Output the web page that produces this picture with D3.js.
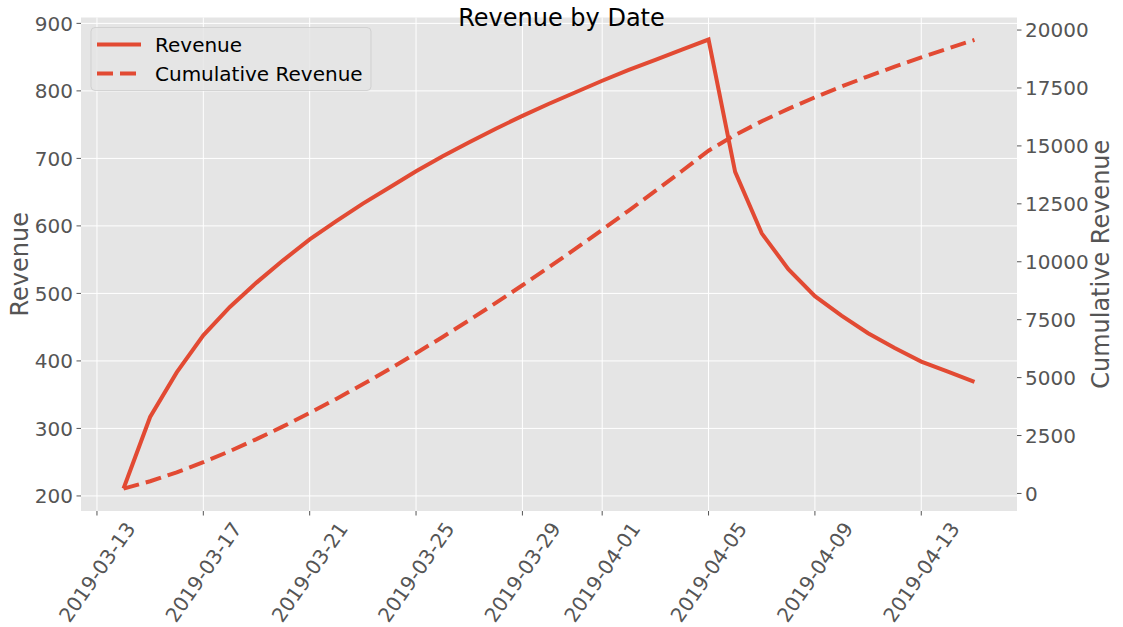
<!DOCTYPE html>
<html>
<head>
<meta charset="utf-8">
<script src="https://cdn.jsdelivr.net/npm/d3@7"></script>
<style>
  body { margin: 0; background: #fff; }
  text { font-family: "DejaVu Sans", sans-serif; }
</style>
</head>
<body>
<svg></svg>
<script>
// daily dates, 2019-03-14 .. 2019-04-15
const dates = [
  "2019-03-14", "2019-03-15", "2019-03-16", "2019-03-17", "2019-03-18", "2019-03-19",
  "2019-03-20", "2019-03-21", "2019-03-22", "2019-03-23", "2019-03-24", "2019-03-25",
  "2019-03-26", "2019-03-27", "2019-03-28", "2019-03-29", "2019-03-30", "2019-03-31",
  "2019-04-01", "2019-04-02", "2019-04-03", "2019-04-04", "2019-04-05", "2019-04-06",
  "2019-04-07", "2019-04-08", "2019-04-09", "2019-04-10", "2019-04-11", "2019-04-12",
  "2019-04-13", "2019-04-14", "2019-04-15"
]

const revenue = [
  211, 317, 383, 438, 480, 516, 549, 580, 607, 633, 657, 681,
  703, 724, 744, 763, 781, 798, 815, 831, 846, 861, 876, 680,
  589, 536, 496, 467, 441, 419, 399, 384, 369
]

const cumulativeRevenue = [
  211, 528, 911, 1349, 1829, 2345, 2894, 3474, 4081, 4714, 5371, 6052,
  6755, 7479, 8223, 8986, 9767, 10565, 11380, 12211, 13057, 13918, 14794, 15474,
  16063, 16599, 17095, 17562, 18003, 18422, 18821, 19205, 19574
]

const xTickLabels = [
  "2019-03-13", "2019-03-17", "2019-03-21", "2019-03-25", "2019-03-29",
  "2019-04-01", "2019-04-05", "2019-04-09", "2019-04-13"
]
const leftTicks = [200, 300, 400, 500, 600, 700, 800, 900]
const rightTicks = [0, 2500, 5000, 7500, 10000, 12500, 15000, 17500, 20000]

const parse = d3.utcParse("%Y-%m-%d")
const red = "#E24A33"

const svg = d3.select("svg")
    .attr("width", 1123)
    .attr("height", 627)

const plotLeft = 81, plotRight = 1017, plotTop = 17.5, plotBottom = 511

const data = dates.map((d, i) => ({
    date: parse(d),
    revenue: revenue[i],
    cum: cumulativeRevenue[i]
}))

const first = data[0].date, last = data[data.length - 1].date
const pad = (last - first) * 0.05

const x = d3.scaleUtc()
    .domain([new Date(+first - pad), new Date(+last + pad)])
    .range([plotLeft, plotRight])

const yL = d3.scaleLinear()
    .domain([177.7, 908.7])
    .range([plotBottom, plotTop])

const yR = d3.scaleLinear()
    .domain([-757, 20542])
    .range([plotBottom, plotTop])

// plot background
svg.append("rect")
    .attr("x", plotLeft).attr("y", plotTop)
    .attr("width", plotRight - plotLeft).attr("height", plotBottom - plotTop)
    .attr("fill", "#E5E5E5")

// grid lines
svg.append("g")
    .selectAll("line")
    .data(leftTicks)
    .enter().append("line")
    .attr("x1", plotLeft).attr("x2", plotRight)
    .attr("y1", d => yL(d)).attr("y2", d => yL(d))
    .attr("stroke", "#fff").attr("stroke-width", 1)

svg.append("g")
    .selectAll("line")
    .data(xTickLabels)
    .enter().append("line")
    .attr("x1", d => x(parse(d))).attr("x2", d => x(parse(d)))
    .attr("y1", plotTop).attr("y2", plotBottom)
    .attr("stroke", "#fff").attr("stroke-width", 1)

// lines
const revLine = d3.line().x(d => x(d.date)).y(d => yL(d.revenue))
const cumLine = d3.line().x(d => x(d.date)).y(d => yR(d.cum))

svg.append("path")
    .datum(data)
    .attr("d", revLine)
    .attr("fill", "none")
    .attr("stroke", red)
    .attr("stroke-width", 4)

svg.append("path")
    .datum(data)
    .attr("d", cumLine)
    .attr("fill", "none")
    .attr("stroke", red)
    .attr("stroke-width", 4)
    .attr("stroke-dasharray", "16,7")

// left axis ticks + labels
const leftAxis = svg.append("g")
leftAxis.selectAll("line")
    .data(leftTicks)
    .enter().append("line")
    .attr("x1", plotLeft - 4.5).attr("x2", plotLeft)
    .attr("y1", d => yL(d)).attr("y2", d => yL(d))
    .attr("stroke", "#555")
leftAxis.selectAll("text")
    .data(leftTicks)
    .enter().append("text")
    .attr("x", plotLeft - 8)
    .attr("y", d => yL(d))
    .attr("dy", "0.36em")
    .attr("text-anchor", "end")
    .attr("font-size", 20)
    .attr("fill", "#555")
    .text(d => d)

// right axis ticks + labels
const rightAxis = svg.append("g")
rightAxis.selectAll("line")
    .data(rightTicks)
    .enter().append("line")
    .attr("x1", plotRight).attr("x2", plotRight + 4.5)
    .attr("y1", d => yR(d)).attr("y2", d => yR(d))
    .attr("stroke", "#555")
rightAxis.selectAll("text")
    .data(rightTicks)
    .enter().append("text")
    .attr("x", plotRight + 8)
    .attr("y", d => yR(d))
    .attr("dy", "0.36em")
    .attr("font-size", 20)
    .attr("fill", "#555")
    .text(d => d)

// x axis ticks + rotated labels
const angle = 55
const xAxis = svg.append("g")
xAxis.selectAll("line")
    .data(xTickLabels)
    .enter().append("line")
    .attr("x1", d => x(parse(d))).attr("x2", d => x(parse(d)))
    .attr("y1", plotBottom).attr("y2", plotBottom + 4.5)
    .attr("stroke", "#555")
xAxis.selectAll("text")
    .data(xTickLabels)
    .enter().append("text")
    .attr("text-anchor", "middle")
    .attr("font-size", 20)
    .attr("fill", "#555")
    .text(d => d)
    .each(function (d) {
        const len = this.getComputedTextLength()
        const rad = angle * Math.PI / 180
        const h = 20 * 0.95
        const bh = len * Math.sin(rad) + h * Math.cos(rad)
        const cx = x(parse(d))
        const cy = plotBottom + 8 + bh / 2
        d3.select(this)
            .attr("x", 0).attr("y", 0).attr("dy", "0.36em")
            .attr("transform", `translate(${cx}, ${cy}) rotate(${-angle})`)
    })

// axis titles
svg.append("text")
    .attr("transform", `translate(28, ${(plotTop + plotBottom) / 2}) rotate(-90)`)
    .attr("text-anchor", "middle")
    .attr("font-size", 24)
    .attr("fill", "#555")
    .text("Revenue")

svg.append("text")
    .attr("transform", `translate(1109, ${(plotTop + plotBottom) / 2}) rotate(-90)`)
    .attr("text-anchor", "middle")
    .attr("font-size", 24)
    .attr("fill", "#555")
    .text("Cumulative Revenue")

// title
svg.append("text")
    .attr("x", 1123 / 2)
    .attr("y", 26)
    .attr("text-anchor", "middle")
    .attr("font-size", 24)
    .attr("fill", "#000")
    .text("Revenue by Date")

// legend
const legend = svg.append("g")
legend.append("rect")
    .attr("x", 91).attr("y", 27.5)
    .attr("width", 280).attr("height", 63)
    .attr("rx", 4)
    .attr("fill", "#E5E5E5").attr("fill-opacity", 0.8)
    .attr("stroke", "#CCCCCC").attr("stroke-opacity", 0.8)

const legendItems = [
    { label: "Revenue", dash: null },
    { label: "Cumulative Revenue", dash: "16,7" }
]
legendItems.forEach((item, i) => {
    const ly = 44.5 + i * 29
    legend.append("line")
        .attr("x1", 97).attr("x2", 141)
        .attr("y1", ly).attr("y2", ly)
        .attr("stroke", red).attr("stroke-width", 4)
        .attr("stroke-dasharray", item.dash)
    legend.append("text")
        .attr("x", 155).attr("y", ly)
        .attr("dy", "0.36em")
        .attr("font-size", 20)
        .attr("fill", "#000")
        .text(item.label)
})
</script>
</body>
</html>
